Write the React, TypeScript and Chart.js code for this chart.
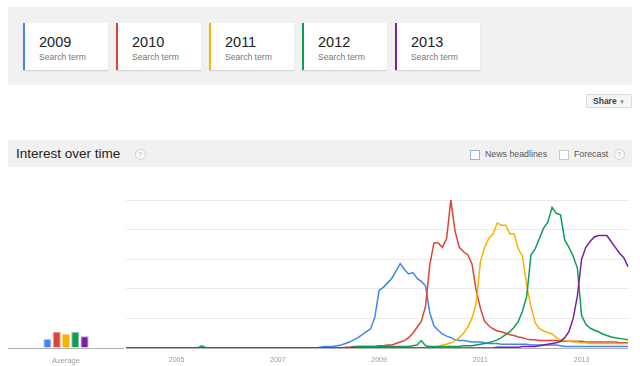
import React, { useEffect, useRef } from 'react';
import { Chart, registerables } from 'chart.js';

Chart.register(...registerables);

const FONT = '"Liberation Sans", Arial, sans-serif';

const SERIES_NAMES = ['2009', '2010', '2011', '2012', '2013'];
const SUBTITLE = 'Search term';
const COLORS = ['#4285f4', '#db4437', '#f4b400', '#0f9d58', '#7b1fa2'];
const LIGHT_COLORS = ['#a9c6f9', '#ee9f98', '#f9d780', '#8ccdab', '#bd8fd0'];
const AVERAGES = [6, 11, 9.5, 11, 8];
const AVERAGE_LABEL = 'Average';
const START_YEAR = 2004;
const YEARS_COUNT = 10;
const TICK_YEARS = ['2005', '2007', '2009', '2011', '2013'];

// month labels "YYYY-MM", Jan 2004 .. Dec 2013
const MONTH_LABELS: string[] = [];
for (let y = 0; y < YEARS_COUNT; y++) {
  for (let m = 1; m <= 12; m++) {
    MONTH_LABELS.push(`${START_YEAR + y}-${m < 10 ? '0' + m : m}`);
  }
}

// one row per year (2004 .. 2013), 12 months each
const S2009 = [
  0, 0, 0, 0, 0, 0, 0, 0, 0, 0, 0, 0,
  0, 0, 0, 0, 0, 0, 0, 0, 0, 0, 0, 0,
  0, 0, 0, 0, 0, 0, 0, 0, 0, 0, 0, 0,
  0, 0, 0, 0, 0, 0, 0, 0, 0, 0, 0.5, 1,
  1, 1, 1.5, 2, 3, 4, 5.5, 7, 9, 11, 13, 21,
  39, 41, 44, 47, 52, 57, 53, 50, 51, 47, 45, 42,
  24, 15, 12, 9.5, 8, 7, 5.5, 5, 5, 4.5, 4, 4,
  4, 3.5, 3, 3, 3, 2.5, 2.5, 2.5, 2.5, 2.5, 2.5, 2.5,
  2, 2, 2, 2, 2, 2, 2, 1.5, 1, 1, 1, 1,
  1, 1, 1, 1, 1, 1, 1, 1, 1, 1, 1, 1,
];
const S2010 = [
  0, 0, 0, 0, 0, 0, 0, 0, 0, 0, 0, 0,
  0, 0, 0, 0, 0, 0, 0, 0, 0, 0, 0, 0,
  0, 0, 0, 0, 0, 0, 0, 0, 0, 0, 0, 0,
  0, 0, 0, 0, 0, 0, 0, 0, 0, 0, 0, 0,
  0, 0, 0, 0, 0.5, 0.5, 1, 1, 1, 1, 1, 1,
  1.5, 1.5, 2, 2, 3, 4, 5, 7, 10, 14, 18, 28,
  56, 71, 71, 68, 74, 100, 79, 68, 65, 63, 57, 39,
  27, 18, 15, 13, 11.5, 11, 10, 9, 8.5, 7.5, 7, 6,
  5.5, 5.5, 5, 5, 5, 5, 5, 4.5, 4.5, 4.5, 4.5, 4.5,
  4.5, 4, 4, 4, 4, 4, 4, 4, 4, 3.5, 3.5, 3.5,
];
const S2011 = [
  0, 0, 0, 0, 0, 0, 0, 0, 0, 0, 0, 0,
  0, 0, 0, 0, 0, 0, 0, 0, 0, 0, 0, 0,
  0, 0, 0, 0, 0, 0, 0, 0, 0, 0, 0, 0,
  0, 0, 0, 0, 0, 0, 0, 0, 0, 0, 0, 0,
  0, 0, 0, 0, 0, 0, 0, 0, 0, 0, 0, 0,
  0, 0, 0, 0, 0, 0, 0, 0, 0, 0, 0, 0,
  0.5, 0.5, 1, 2, 2.5, 3.5, 5, 7, 10, 14, 20, 30,
  58, 68, 74, 77, 84.5, 83, 83, 77, 77, 67, 62, 42,
  28, 17, 13, 11.5, 10.5, 9.5, 7, 5.5, 5, 4.5, 4, 4,
  3.5, 3.5, 3, 3, 3, 3, 3, 3, 3, 3, 3, 3,
];
const S2012 = [
  0, 0, 0, 0, 0, 0, 0, 0, 0, 0, 0, 0,
  0, 0, 0, 0, 0, 0, 1.5, 0, 0, 0, 0, 0,
  0, 0, 0, 0, 0, 0, 0, 0, 0, 0, 0, 0,
  0, 0, 0, 0, 0, 0, 0, 0, 0, 0, 0, 0,
  0, 0, 0, 0, 0, 0, 0.5, 1, 1, 1, 1, 1,
  1, 1, 1, 1, 1, 1, 1, 1, 1.5, 2, 5, 1.5,
  1, 1, 1, 1, 1, 1, 1, 1, 1.5, 1.5, 1.5, 2,
  2.5, 3, 3.5, 4.5, 5.5, 7, 9, 11, 14, 18, 25, 35,
  63, 67, 74, 81, 85, 95, 91, 90, 73, 68, 62, 54,
  22, 16, 13.5, 12, 11, 9.5, 8.5, 7.5, 7, 6.5, 6, 5.5,
];
const S2013 = [
  0, 0, 0, 0, 0, 0, 0, 0, 0, 0, 0, 0,
  0, 0, 0, 0, 0, 0, 0, 0, 0, 0, 0, 0,
  0, 0, 0, 0, 0, 0, 0, 0, 0, 0, 0, 0,
  0, 0, 0, 0, 0, 0, 0, 0, 0, 0, 0, 0,
  0, 0, 0, 0, 0, 0, 0, 0, 0, 0, 0, 0,
  0, 0, 0, 0, 0, 0, 0, 0, 0, 0, 0, 0,
  0, 0, 0, 0, 0, 0, 0, 0, 0, 0, 0, 0,
  0, 0, 0, 0, 0.5, 0.5, 0.5, 0.5, 0.5, 0.5, 1, 1,
  1, 1, 1.5, 2, 2.5, 3, 3.5, 4.5, 7, 11, 20, 35,
  60, 68, 72, 75, 76, 76, 76, 72, 68, 64, 61, 55,
];
const SERIES = [S2009, S2010, S2011, S2012, S2013];

function MainChart() {
  const ref = useRef<HTMLCanvasElement>(null);
  useEffect(() => {
    if (!ref.current) return;
    const chart = new Chart(ref.current, {
      type: 'line',
      data: {
        labels: MONTH_LABELS,
        datasets: SERIES.map((d, i) => ({
          label: SERIES_NAMES[i],
          data: d,
          borderColor: COLORS[i],
          backgroundColor: COLORS[i],
          borderWidth: 1.5,
          pointRadius: 0,
          tension: 0,
          fill: false,
          order: SERIES.length - i,
        })),
      },
      options: {
        animation: false,
        responsive: false,
        maintainAspectRatio: false,
        layout: { padding: { left: 6, right: 7, top: 10, bottom: 0 } },
        plugins: { legend: { display: false }, tooltip: { enabled: false } },
        scales: {
          x: {
            grid: { display: false },
            border: { display: false },
            ticks: {
              autoSkip: false,
              maxRotation: 0,
              padding: 0,
              color: '#999',
              font: { size: 7, family: FONT },
              callback: (_v: any, i: number) => {
                const lbl = MONTH_LABELS[i];
                if (!lbl) return null;
                const [yr, mo] = lbl.split('-');
                return mo === '01' && TICK_YEARS.includes(yr) ? yr : null;
              },
            },
            afterFit: (s: any) => { s.height = 18; },
          },
          y: {
            min: 0,
            max: 100,
            ticks: { display: false, stepSize: 20 },
            grid: {
              drawTicks: false,
              color: (ctx: any) => (ctx.tick && ctx.tick.value === 0 ? '#b3b3b3' : '#ebebeb'),
              lineWidth: 1,
            },
            border: { display: false },
            afterFit: (s: any) => { s.width = 0; },
          },
        },
      },
    } as any);
    return () => chart.destroy();
  }, []);
  return (
    <canvas
      ref={ref}
      width={515}
      height={176}
      style={{ position: 'absolute', left: 120, top: 190, width: 515, height: 176 }}
    />
  );
}

function AverageChart() {
  const ref = useRef<HTMLCanvasElement>(null);
  useEffect(() => {
    if (!ref.current) return;
    const chart = new Chart(ref.current, {
      type: 'bar',
      data: {
        labels: [AVERAGE_LABEL],
        datasets: AVERAGES.map((v, i) => ({
          label: SERIES_NAMES[i],
          data: [v],
          backgroundColor: COLORS[i],
          borderColor: LIGHT_COLORS[i],
          borderWidth: 1,
          borderSkipped: 'bottom',
          barPercentage: 0.87,
          categoryPercentage: 0.4,
        })),
      },
      options: {
        animation: false,
        responsive: false,
        maintainAspectRatio: false,
        layout: { padding: { left: 0, right: 0, top: 10, bottom: 0 } },
        plugins: { legend: { display: false }, tooltip: { enabled: false } },
        scales: {
          x: {
            grid: { display: false },
            border: { display: false },
            ticks: {
              padding: 0,
              color: '#999',
              font: { size: 7.5, family: FONT },
            },
            afterFit: (s: any) => { s.height = 18; },
          },
          y: {
            min: 0,
            max: 100,
            ticks: { display: false, stepSize: 20 },
            grid: {
              drawTicks: false,
              color: (ctx: any) => (ctx.tick && ctx.tick.value === 0 ? '#b3b3b3' : 'rgba(0,0,0,0)'),
              lineWidth: 1,
            },
            border: { display: false },
            afterFit: (s: any) => { s.width = 0; },
          },
        },
      },
    } as any);
    return () => chart.destroy();
  }, []);
  return (
    <canvas
      ref={ref}
      width={116}
      height={176}
      style={{ position: 'absolute', left: 8, top: 190, width: 116, height: 176 }}
    />
  );
}

const CARD_LEFTS = [23, 116, 209, 302, 395];

function HelpIcon({ x, y }: { x: number; y: number }) {
  return (
    <div
      style={{
        position: 'absolute',
        left: x - 5.5,
        top: y - 5.5,
        width: 9,
        height: 9,
        borderRadius: '50%',
        border: '1px solid #d0d0d0',
        background: '#fafafa',
        color: '#b0b0b0',
        fontSize: 7,
        lineHeight: '9px',
        textAlign: 'center',
        fontFamily: FONT,
      }}
    >
      ?
    </div>
  );
}

export default function App() {
  return (
    <div
      style={{
        position: 'fixed',
        left: 0,
        top: 0,
        width: 640,
        height: 366,
        background: '#fff',
        overflow: 'hidden',
        fontFamily: FONT,
      }}
    >
      {/* top panel with search-term cards */}
      <div style={{ position: 'absolute', left: 8, top: 7, width: 624, height: 78, background: '#f1f1f1' }} />
      {SERIES_NAMES.map((name, i) => (
        <div
          key={name}
          style={{
            position: 'absolute',
            left: CARD_LEFTS[i],
            top: 23,
            width: 83,
            height: 47,
            background: '#fff',
            borderLeft: `2px solid ${COLORS[i]}`,
            boxShadow: '0 1px 1px rgba(0,0,0,0.12)',
          }}
        >
          <div style={{ position: 'absolute', left: 14, top: 11, fontSize: 14.5, lineHeight: '16px', color: '#222', whiteSpace: 'nowrap' }}>
            {name}
          </div>
          <div style={{ position: 'absolute', left: 14, top: 29, fontSize: 8.6, lineHeight: '10px', color: '#777', whiteSpace: 'nowrap' }}>
            {SUBTITLE}
          </div>
        </div>
      ))}

      {/* share button */}
      <div
        style={{
          position: 'absolute',
          left: 586,
          top: 94,
          width: 44,
          height: 12,
          border: '1px solid #dcdcdc',
          background: '#f5f5f5',
          borderRadius: 1,
          fontSize: 8.5,
          lineHeight: '12px',
          color: '#444',
          fontWeight: 'bold',
          textAlign: 'center',
          whiteSpace: 'nowrap',
        }}
      >
        Share <span style={{ fontSize: 6, color: '#888', fontWeight: 'normal' }}>▼</span>
      </div>

      {/* header bar */}
      <div style={{ position: 'absolute', left: 8, top: 140, width: 624, height: 27, background: '#f1f1f1' }} />
      <div style={{ position: 'absolute', left: 16, top: 146, fontSize: 13.5, lineHeight: '16px', color: '#222', whiteSpace: 'nowrap' }}>
        Interest over time
      </div>
      <HelpIcon x={140} y={154} />
      <div
        style={{
          position: 'absolute',
          left: 470,
          top: 150,
          width: 8,
          height: 8,
          border: '1px solid #8fb3f0',
          background: '#fff',
        }}
      />
      <div style={{ position: 'absolute', left: 485, top: 149, fontSize: 8.8, lineHeight: '10px', color: '#555', whiteSpace: 'nowrap' }}>
        News headlines
      </div>
      <div
        style={{
          position: 'absolute',
          left: 559,
          top: 150,
          width: 8,
          height: 8,
          border: '1px solid #c8c8c8',
          background: '#fff',
        }}
      />
      <div style={{ position: 'absolute', left: 574, top: 149, fontSize: 8.8, lineHeight: '10px', color: '#555', whiteSpace: 'nowrap' }}>
        Forecast
      </div>
      <HelpIcon x={619} y={154} />

      <AverageChart />
      <MainChart />
    </div>
  );
}
